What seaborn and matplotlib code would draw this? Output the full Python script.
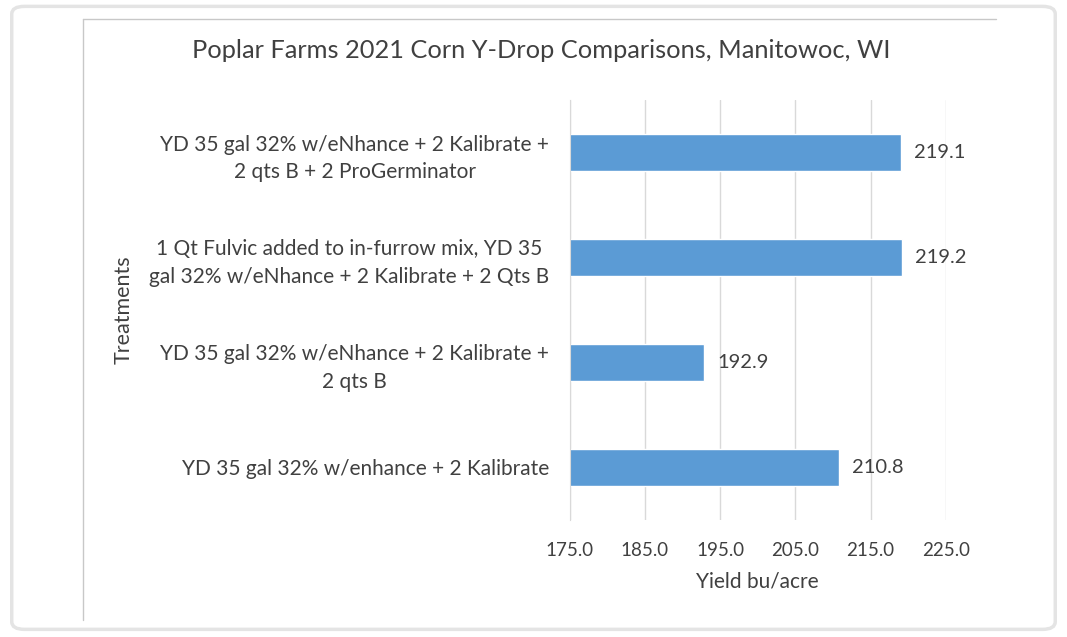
import matplotlib
matplotlib.use("Agg")
import matplotlib.pyplot as plt
from matplotlib.patches import FancyBboxPatch
from matplotlib.lines import Line2D
import pandas as pd
import seaborn as sns

sns.set_style("white")
plt.rcParams['font.family'] = ['Lato', 'DejaVu Sans']

# data, top to bottom as shown
treatments = [
    "YD 35 gal 32% w/eNhance + 2 Kalibrate +\n2 qts B + 2 ProGerminator",
    "1 Qt Fulvic added to in-furrow mix, YD 35\ngal 32% w/eNhance + 2 Kalibrate + 2 Qts B",
    "YD 35 gal 32% w/eNhance + 2 Kalibrate +\n2 qts B",
    "YD 35 gal 32% w/enhance + 2 Kalibrate",
]
yields = [219.1, 219.2, 192.9, 210.8]
x_ticks = [175.0, 185.0, 195.0, 205.0, 215.0, 225.0]

df = pd.DataFrame({"Treatments": treatments, "Yield": yields})

fig = plt.figure(figsize=(10.67, 6.37), dpi=100)
ax = fig.add_axes([0.534, 0.1837, 0.3524, 0.6593])

sns.barplot(data=df, y="Treatments", x="Yield", orient="h", color="#5B9BD5",
            width=0.35, saturation=1, ax=ax)

ax.set_xlim(x_ticks[0], x_ticks[-1])
ax.set_ylim(3.5, -0.5)
ax.set_xticks(x_ticks)
ax.set_xticklabels([f"{t:.1f}" for t in x_ticks], fontsize=13.5, color="#404040")
ax.set_yticklabels(treatments, fontsize=15, color="#404040", multialignment="center",
                   linespacing=1.45)
ax.tick_params(axis="both", length=0)
ax.tick_params(axis="y", pad=15)
ax.tick_params(axis="x", pad=16)

ax.xaxis.grid(True, color="#d9d9d9", linewidth=1)
ax.set_axisbelow(True)
for s in ["top", "right", "bottom"]:
    ax.spines[s].set_visible(False)
ax.spines["left"].set_color("#d9d9d9")

ax.set_xlabel("Yield bu/acre", fontsize=15, color="#404040", labelpad=9)
ax.set_ylabel("Treatments", fontsize=15.5, color="#404040")
ax.yaxis.set_label_coords(-1.16, 0.5)

# value labels
for i, v in enumerate(yields):
    ax.text(v + 1.7, i, f"{v:.1f}", va="center", ha="left", fontsize=14.5, color="#404040")

fig.text(0.507, 0.921, "Poplar Farms 2021 Corn Y-Drop Comparisons, Manitowoc, WI",
         ha="center", va="center", fontsize=18.3, color="#404040")

# outer rounded frame and inner chart frame
fig.patches.append(FancyBboxPatch((0.011, 0.012), 0.978, 0.978,
                                  boxstyle="round,pad=0,rounding_size=0.012",
                                  transform=fig.transFigure, fill=False,
                                  edgecolor="#e4e4e4", linewidth=2.5))
fig.lines.append(Line2D([0.078, 0.933], [0.970, 0.970], transform=fig.transFigure,
                        color="#c8c8c8", linewidth=1))
fig.lines.append(Line2D([0.078, 0.078], [0.027, 0.970], transform=fig.transFigure,
                        color="#c8c8c8", linewidth=1))

fig.savefig("out.png", dpi=100)
